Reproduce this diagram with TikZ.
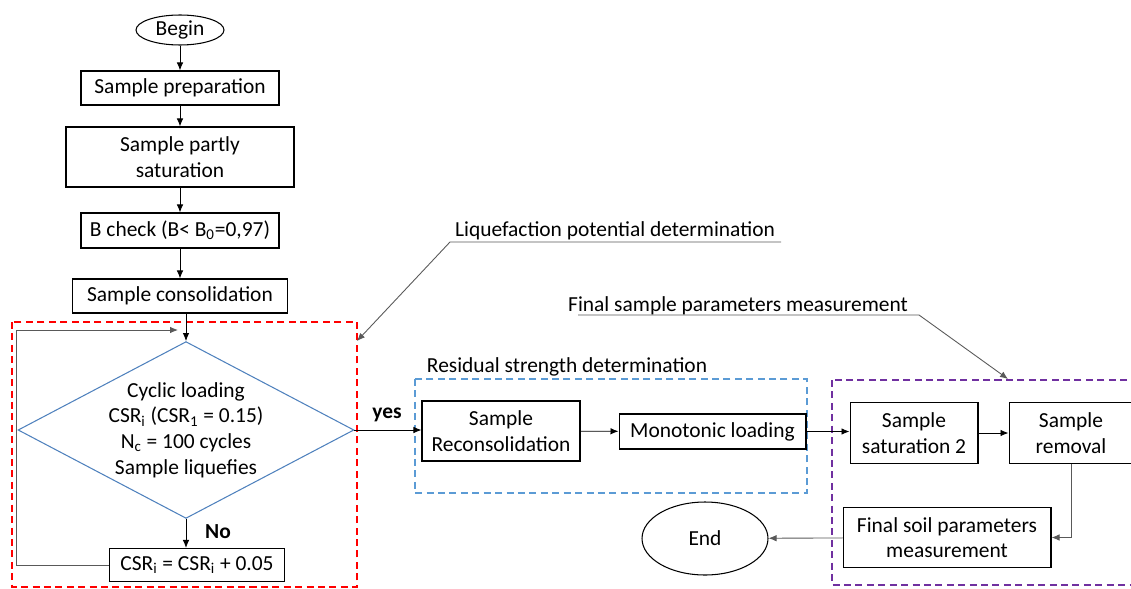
\documentclass[tikz,border=0pt]{standalone}
\usepackage{fontspec}
\setmainfont{Carlito}
\usetikzlibrary{arrows.meta,shapes.geometric,positioning}
\definecolor{liqc}{HTML}{FF0000}
\definecolor{resc}{HTML}{5B9BD5}
\definecolor{finc}{HTML}{7030A0}
\definecolor{cyclc}{HTML}{4F81BD}

\begin{document}
\begin{tikzpicture}[x=0.02cm, y=-0.02cm,
  font=\fontsize{12.2}{14.6}\selectfont,
  proc/.style={draw, rectangle, inner sep=0pt, align=center, line width=0.6pt},
  term/.style={draw, ellipse, inner sep=0pt, line width=0.6pt},
  decide/.style={draw=cyclc, diamond, aspect=1.9, inner sep=0pt, align=center, line width=0.6pt},
  zone/.style={line width=0.9pt, dash pattern=on 4pt off 2.5pt},
  flow/.style={-{Latex[length=1.6mm,width=1.3mm]}, line width=0.5pt},
  leader/.style={black!65, line width=0.5pt},
  lbl/.style={anchor=base}]
  \useasboundingbox (0,0) rectangle (1131,588);

  % zones
  \draw[zone, liqc] (12,322) rectangle (357,587);
  \draw[zone, resc] (415,379) rectangle (807,493);
  \draw[zone, finc] (832,380) rectangle (1140,585);

  % main column
  \node[term, minimum width=1.76cm, minimum height=0.6cm] (begin) at (180,30) {Begin};
  \node[proc, minimum width=3.96cm, minimum height=0.68cm] (prep) at (180,88) {Sample preparation};
  \node[proc, minimum width=4.56cm, minimum height=1.2cm] (partsat) at (180,157) {Sample partly\\saturation};
  \node[proc, minimum width=3.96cm, minimum height=0.7cm] (bcheck) at (180,230.5) {B check (B< B\textsubscript{0}=0,97)};
  \node[proc, minimum width=4.3cm, minimum height=0.68cm] (consol) at (180,296) {Sample consolidation};
  \node[decide, minimum width=6.48cm, minimum height=3.4cm] (cyclic) at (186,430)
    {Cyclic loading\\CSR\textsubscript{i} (CSR\textsubscript{1} = 0.15)\\N\textsubscript{c} = 100 cycles\\Sample liquefies};
  \node[proc, minimum width=3.5cm, minimum height=0.66cm] (csrupd) at (197,565) {CSR\textsubscript{i} = CSR\textsubscript{i} + 0.05};
  \node[lbl, font=\fontsize{12.2}{14.6}\selectfont\bfseries] (nolbl) at (218,538) {No};
  \node[lbl, font=\fontsize{12.2}{14.6}\selectfont\bfseries] (yeslbl) at (387,418) {yes};

  % residual strength
  \node[proc, minimum width=3.16cm, minimum height=1.2cm] (reconsol) at (501,431) {Sample\\Reconsolidation};
  \node[proc, minimum width=3.74cm, minimum height=0.7cm] (monot) at (712.5,431.5) {Monotonic loading};

  % final parameters
  \node[proc, minimum width=2.56cm, minimum height=1.22cm] (sat2) at (914,433) {Sample\\saturation 2};
  \node[proc, minimum width=2.48cm, minimum height=1.22cm] (removal) at (1071,433) {Sample\\removal};
  \node[proc, minimum width=4.16cm, minimum height=1.2cm] (finsoil) at (947,537.5) {Final soil parameters\\measurement};
  \node[term, minimum width=2.52cm, minimum height=1.46cm] (end) at (705,538.5) {End};

  % zone labels
  \node[lbl] (liqlbl) at (615,236) {Liquefaction potential determination};
  \node[lbl] (reslbl) at (567,372) {Residual strength determination};
  \node[lbl] (finlbl) at (738,311) {Final sample parameters measurement};
  \coordinate (liqknee) at (450,242);
  \coordinate (liqtip) at (357,341);
  \coordinate (finknee) at (919,315);
  \coordinate (fintip) at (1008,379);
  \coordinate (loopx) at (16,330);
  \coordinate (loopin) at (178,330);

  % connectors
  \draw[flow] (begin) -- (prep);
  \draw[flow] (prep) -- (partsat);
  \draw[flow] (partsat) -- (bcheck);
  \draw[flow] (bcheck) -- (consol);
  \draw[flow] (consol.south -| cyclic.north) -- (cyclic.north);
  \draw[flow] (cyclic.south) -- (cyclic.south |- csrupd.north);
  \draw[flow, black!65] (csrupd.west) -- (csrupd.west -| loopx) |- (loopin);
  \draw[flow] (cyclic.east) -- (cyclic.east -| reconsol.west);
  \draw[flow] (reconsol) -- (monot);
  \draw[flow] (monot.east) -- (monot.east -| sat2.west);
  \draw[flow] (sat2) -- (removal);
  \draw[flow, black!65] (removal.south) |- (finsoil.east);
  \draw[flow, black!65] (finsoil) -- (end);
  \draw[leader, flow] (578,315) -- (finknee) -- (fintip);
  \draw[leader, flow] (liqlbl.east |- liqknee) -- (liqknee) -- (liqtip);
\end{tikzpicture}
\end{document}
